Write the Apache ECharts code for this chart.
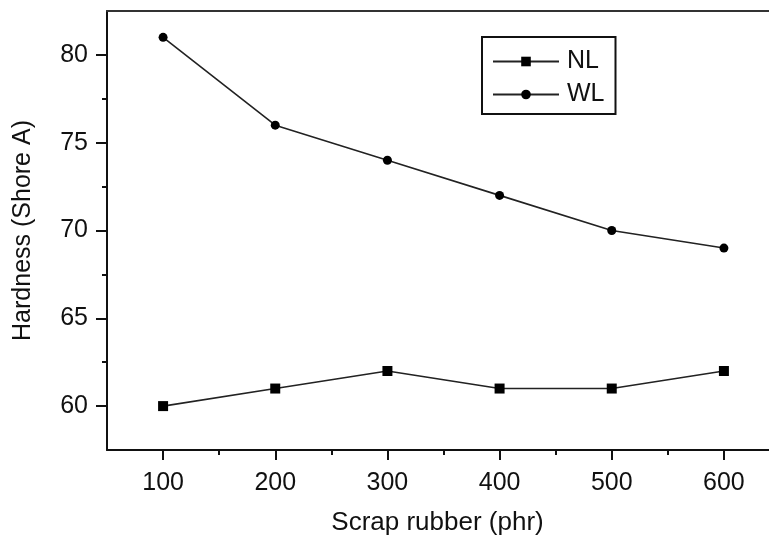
<!DOCTYPE html>
<html>
<head>
<meta charset="utf-8">
<script src="https://cdn.jsdelivr.net/npm/echarts@6/dist/echarts.min.js"></script>
<style>html,body{margin:0;padding:0;background:#fff}#c{width:769px;height:537px}</style>
</head>
<body>
<div id="c"></div>
<script>
var xValues = [100, 200, 300, 400, 500, 600];
var nlValues = [60, 61, 62, 61, 61, 62];
var wlValues = [81, 76, 74, 72, 70, 69];
var xMajorTicks = [100, 200, 300, 400, 500, 600];
var xMinorTicks = [150, 250, 350, 450, 550];
var yMajorTicks = [60, 65, 70, 75, 80];
var yMinorTicks = [62.5, 67.5, 72.5, 77.5];

var FONT = 'Liberation Sans, Arial, sans-serif';
var INK = '#111';
function pairs(xs, ys) { return xs.map(function (x, i) { return [x, ys[i]]; }); }

var grid = { left: 107, top: 11, width: 673, bottom: 87, containLabel: false, outerBoundsMode: 'none' };
var xRange = { min: 50, max: 650 };
var yRange = { min: 57.5, max: 82.5 };

var chart = echarts.init(document.getElementById('c'), null, { renderer: 'canvas' });
chart.setOption({
  animation: false,
  backgroundColor: '#fff',
  grid: grid,
  legend: {
    left: 482, top: 37,
    orient: 'vertical',
    padding: [12, 11, 7, 10],
    itemWidth: 66, itemHeight: 12, itemGap: 8,
    borderColor: '#111', borderWidth: 2,
    textStyle: { fontFamily: FONT, fontSize: 25, color: INK, padding: [0, 0, 0, 3] },
    data: ['NL', 'WL']
  },
  xAxis: [{
    type: 'value', position: 'bottom', min: xRange.min, max: xRange.max,
    axisLine: { show: true, onZero: false, lineStyle: { color: INK, width: 2 } },
    axisTick: { show: true, inside: false, length: 10, customValues: xMajorTicks, lineStyle: { color: INK, width: 2 } },
    axisLabel: { show: true, customValues: xMajorTicks, margin: 21, fontFamily: FONT, fontSize: 25, color: INK },
    splitLine: { show: false },
    name: 'Scrap rubber (phr)', nameLocation: 'middle', nameGap: 60,
    nameTextStyle: { fontFamily: FONT, fontSize: 26, color: INK, padding: [0, 12, 0, 0] }
  }, {
    type: 'value', position: 'bottom', min: xRange.min, max: xRange.max,
    axisLine: { show: false },
    axisTick: { show: true, length: 5, customValues: xMinorTicks, lineStyle: { color: INK, width: 2 } },
    axisLabel: { show: false }, splitLine: { show: false }
  }, {
    type: 'value', position: 'top', min: xRange.min, max: xRange.max,
    axisLine: { show: true, onZero: false, lineStyle: { color: '#333', width: 2 } },
    axisTick: { show: false }, axisLabel: { show: false }, splitLine: { show: false }
  }],
  yAxis: [{
    type: 'value', position: 'left', min: yRange.min, max: yRange.max,
    axisLine: { show: true, onZero: false, lineStyle: { color: INK, width: 2 } },
    axisTick: { show: true, inside: false, length: 11, customValues: yMajorTicks, lineStyle: { color: INK, width: 2 } },
    axisLabel: { show: true, customValues: yMajorTicks, margin: 19, fontFamily: FONT, fontSize: 25, color: INK },
    splitLine: { show: false },
    name: 'Hardness (Shore A)', nameLocation: 'middle', nameGap: 71,
    nameTextStyle: { fontFamily: FONT, fontSize: 25, color: INK }
  }, {
    type: 'value', position: 'left', min: yRange.min, max: yRange.max,
    axisLine: { show: false },
    axisTick: { show: true, length: 5, customValues: yMinorTicks, lineStyle: { color: INK, width: 2 } },
    axisLabel: { show: false }, splitLine: { show: false }
  }],
  series: [{
    name: 'NL', type: 'line', xAxisIndex: 0, yAxisIndex: 0,
    data: pairs(xValues, nlValues),
    symbol: 'rect', symbolSize: 10,
    lineStyle: { color: '#222', width: 1.6 },
    itemStyle: { color: '#000' }
  }, {
    name: 'WL', type: 'line', xAxisIndex: 0, yAxisIndex: 0,
    data: pairs(xValues, wlValues),
    symbol: 'circle', symbolSize: 9,
    lineStyle: { color: '#222', width: 1.6 },
    itemStyle: { color: '#000' }
  }]
});
</script>
</body>
</html>
